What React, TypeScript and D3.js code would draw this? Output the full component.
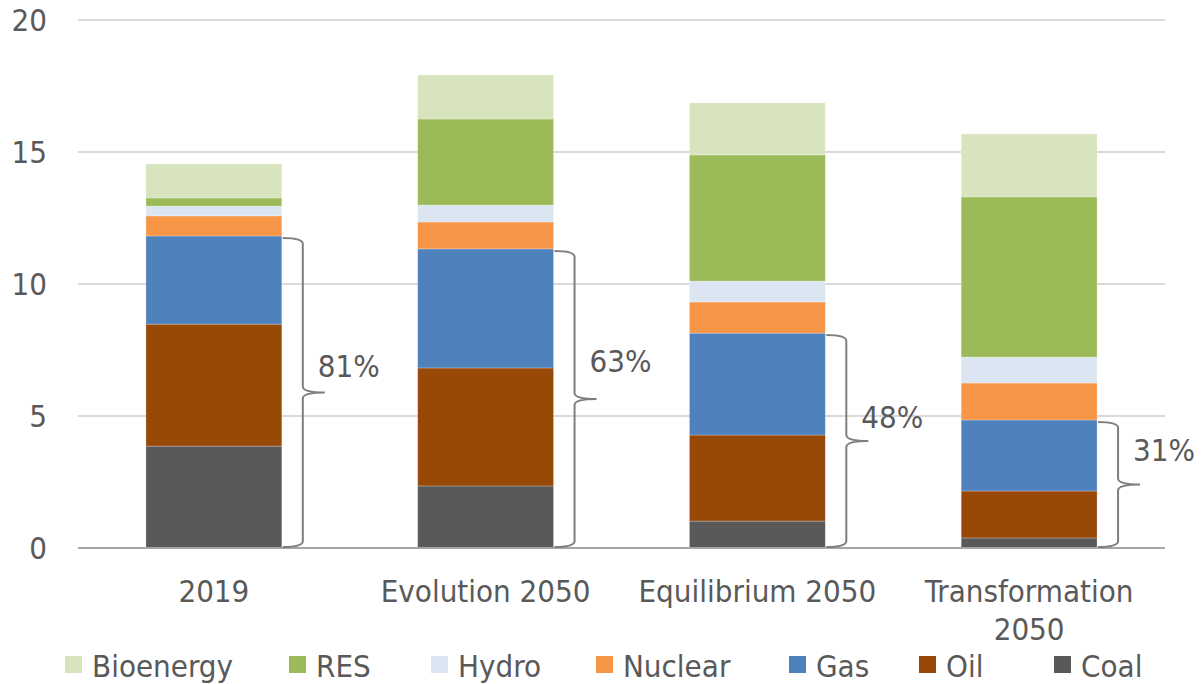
import React, { useEffect } from "react";
import * as d3 from "d3";

const categories = ["2019", "Evolution 2050", "Equilibrium 2050", "Transformation 2050"];
const seriesNames = ["Coal", "Oil", "Gas", "Nuclear", "Hydro", "RES", "Bioenergy"];
const coal = [3.86, 2.35, 1.02, 0.38];
const oil = [4.62, 4.47, 3.26, 1.78];
const gas = [3.34, 4.51, 3.86, 2.69];
const nuclear = [0.76, 1.02, 1.18, 1.4];
const hydro = [0.37, 0.64, 0.79, 0.98];
const res = [0.31, 3.26, 4.78, 6.07];
const bioenergy = [1.29, 1.67, 1.97, 2.38];
const fossilShareLabels = ["81%", "63%", "48%", "31%"];
const yTicks = [0, 5, 10, 15, 20];
const legendOrder = ["Bioenergy", "RES", "Hydro", "Nuclear", "Gas", "Oil", "Coal"];

const colors: Record<string, string> = {
  Coal: "#595959",
  Oil: "#984807",
  Gas: "#4f81bd",
  Nuclear: "#f79646",
  Hydro: "#dce6f2",
  RES: "#9bbb59",
  Bioenergy: "#d7e4bd",
};

const W = 1204;
const H = 684;
const left = 78;
const right = 1165;
const top = 20;
const bottom = 548;
const FONT = "'DejaVu Sans Condensed', 'Liberation Sans', sans-serif";
const FS = 31;
const TXT = "#595959";
const braceLabelDy = [-15, -27, -13, -23];
const legendX = [65, 289, 431, 596, 789, 919, 1054];

export default function App() {
  useEffect(() => {
    document.body.style.margin = "0";
  }, []);

  const valuesBy: Record<string, number[]> = {
    Coal: coal,
    Oil: oil,
    Gas: gas,
    Nuclear: nuclear,
    Hydro: hydro,
    RES: res,
    Bioenergy: bioenergy,
  };
  const rows = categories.map((c, i) => {
    const r: any = { cat: c };
    seriesNames.forEach((s) => (r[s] = valuesBy[s][i]));
    return r;
  });
  const stacked = d3.stack<any>().keys(seriesNames)(rows);

  const x = d3.scaleBand<string>().domain(categories).range([left, right]).paddingInner(0.5).paddingOuter(0.25);
  const y = d3.scaleLinear().domain([0, 20]).range([bottom, top]);

  const bw = x.bandwidth();

  const bracePath = (x0: number, yTop: number, yBot: number) => {
    const vx = x0 + 20;
    const tip = vx + 22;
    const mid = (yTop + yBot) / 2;
    const r = 6;
    return `M${x0},${yTop} Q${vx},${yTop} ${vx},${yTop + r} L${vx},${mid - r} Q${vx},${mid} ${tip},${mid} Q${vx},${mid} ${vx},${mid + r} L${vx},${yBot - r} Q${vx},${yBot} ${x0},${yBot}`;
  };

  return (
    <svg width={W} height={H} style={{ display: "block" }} fontFamily={FONT}>
      <rect width={W} height={H} fill="#ffffff" />
      {yTicks.map((t) => (
        <g key={t}>
          {t !== 0 && (
            <line x1={left} x2={right} y1={y(t)} y2={y(t)} stroke="#d9d9d9" strokeWidth={2} />
          )}
          <text x={47} y={y(t)} dy="0.36em" textAnchor="end" fontSize={FS} fill={TXT}>
            {t}
          </text>
        </g>
      ))}
      {stacked.map((layer) => (
        <g key={layer.key} fill={colors[layer.key]}>
          {layer.map((d, i) => (
            <rect
              key={i}
              x={x(categories[i])!}
              y={y(d[1])}
              width={bw}
              height={y(d[0]) - y(d[1])}
              stroke="rgba(255,255,255,0.35)"
              strokeWidth={0.75}
            />
          ))}
        </g>
      ))}
      <line x1={left} x2={right} y1={bottom} y2={bottom} stroke="#a6a6a6" strokeWidth={2} />
      {categories.map((c, i) => {
        const x0 = x(c)! + bw;
        const fossilTop = coal[i] + oil[i] + gas[i];
        const yTop = y(fossilTop) + 2;
        const yBot = bottom - 1;
        const mid = (yTop + yBot) / 2;
        return (
          <g key={c}>
            <path d={bracePath(x0 + 1, yTop, yBot)} fill="none" stroke="#7f7f7f" strokeWidth={2} />
            <text x={x0 + 36} y={mid + braceLabelDy[i]} fontSize={FS} fill={TXT}>
              {fossilShareLabels[i]}
            </text>
          </g>
        );
      })}
      {categories.map((c) => {
        const cx = x(c)! + bw / 2;
        const words = c === "Transformation 2050" ? ["Transformation", "2050"] : [c];
        return (
          <text key={c} x={cx} y={602} textAnchor="middle" fontSize={FS} fill={TXT}>
            {words.map((w, k) => (
              <tspan key={k} x={cx} dy={k === 0 ? 0 : 38}>
                {w}
              </tspan>
            ))}
          </text>
        );
      })}
      {legendOrder.map((s, i) => (
        <g key={s}>
          <rect x={legendX[i]} y={656} width={17} height={17} fill={colors[s]} />
          <text x={legendX[i] + 27} y={677} fontSize={FS} fill={TXT}>
            {s}
          </text>
        </g>
      ))}
    </svg>
  );
}
